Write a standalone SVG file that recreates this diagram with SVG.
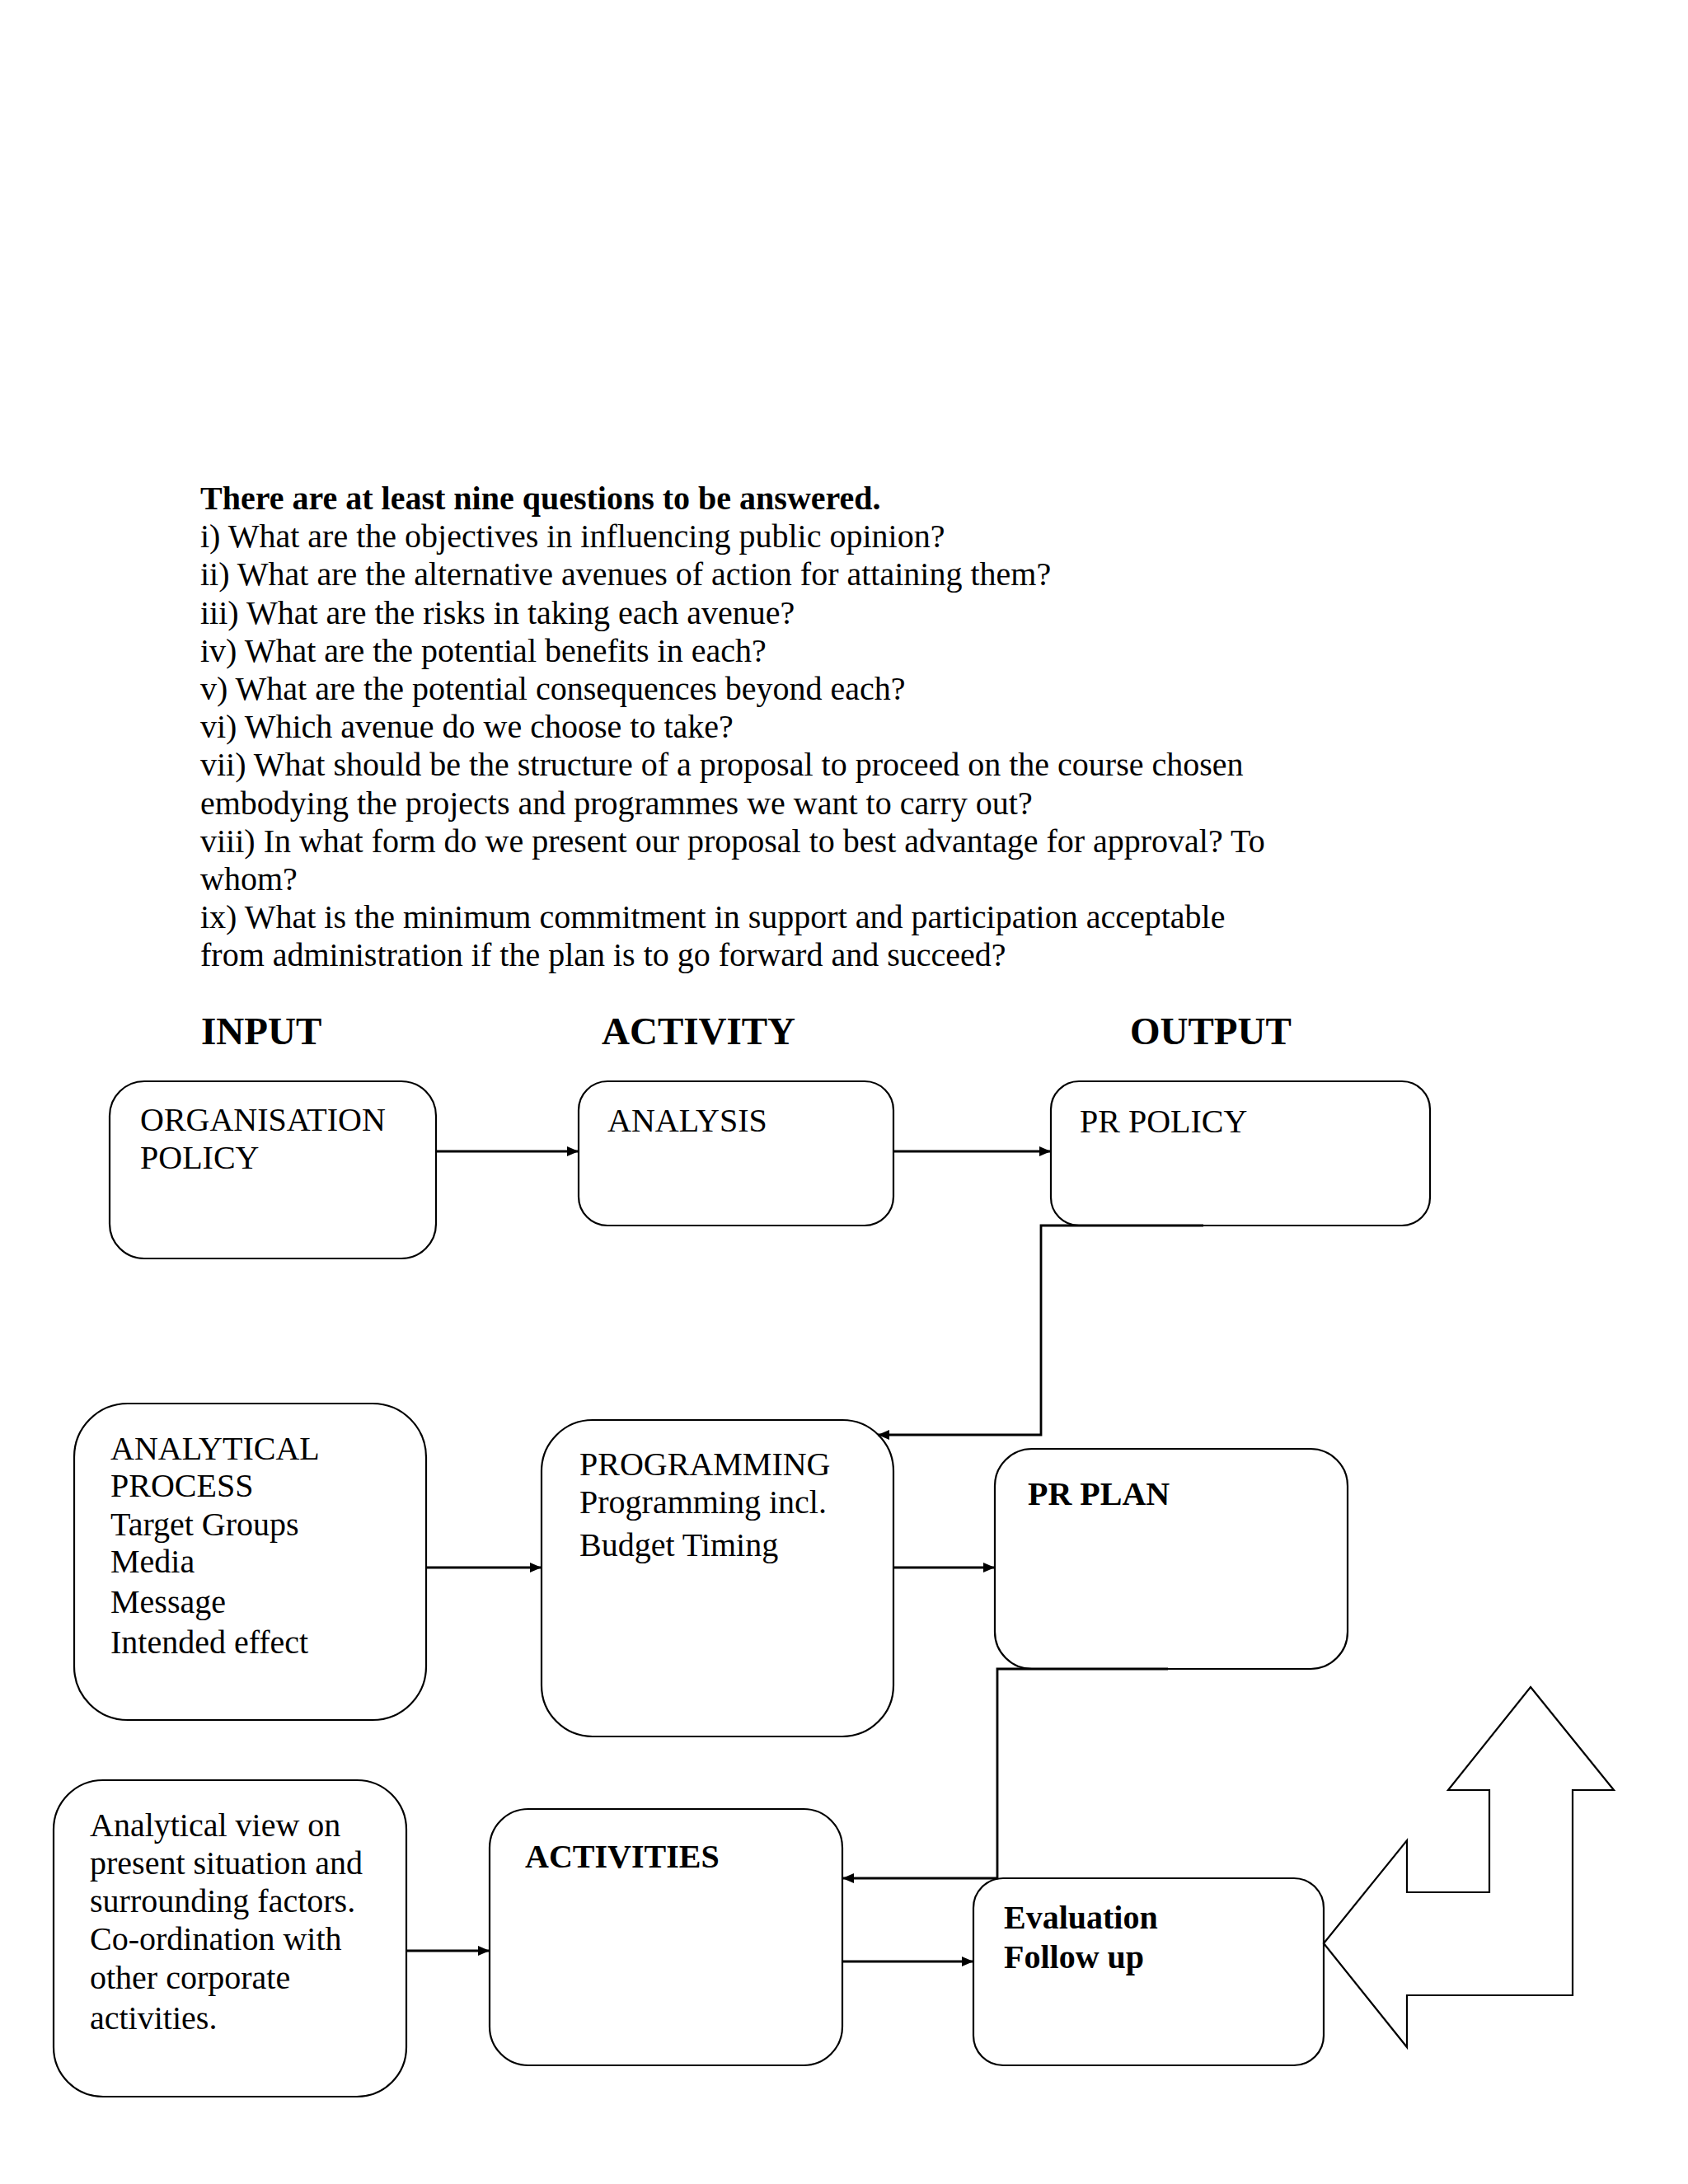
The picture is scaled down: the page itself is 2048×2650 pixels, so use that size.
<svg xmlns="http://www.w3.org/2000/svg" width="2048" height="2650" viewBox="0 0 2048 2650">
<defs>
<marker id="ah" markerUnits="userSpaceOnUse" markerWidth="14" markerHeight="12" refX="14" refY="6" orient="auto"><path d="M0,0 L14,6 L0,12 z" fill="#000"/></marker>
</defs>
<style>
.t{font-family:"Liberation Serif","Times New Roman",serif;font-size:40px;fill:#000}
.b{font-weight:bold}
.h{font-family:"Liberation Serif","Times New Roman",serif;font-size:47px;font-weight:bold;fill:#000}
.box{fill:#fff;stroke:#000;stroke-width:2.2}
.c{fill:none;stroke:#000;stroke-width:2.8}
.ca{marker-end:url(#ah)}
</style>
<rect width="2048" height="2650" fill="#fff"/>

<g id="questions">
<text class="t b" x="243" y="618">There are at least nine questions to be answered.</text>
<text class="t" x="243" y="664">i) What are the objectives in influencing public opinion?</text>
<text class="t" x="243" y="710">ii) What are the alternative avenues of action for attaining them?</text>
<text class="t" x="243" y="757">iii) What are the risks in taking each avenue?</text>
<text class="t" x="243" y="803">iv) What are the potential benefits in each?</text>
<text class="t" x="243" y="849">v) What are the potential consequences beyond each?</text>
<text class="t" x="243" y="895">vi) Which avenue do we choose to take?</text>
<text class="t" x="243" y="941">vii) What should be the structure of a proposal to proceed on the course chosen</text>
<text class="t" x="243" y="988">embodying the projects and programmes we want to carry out?</text>
<text class="t" x="243" y="1034">viii) In what form do we present our proposal to best advantage for approval? To</text>
<text class="t" x="243" y="1080">whom?</text>
<text class="t" x="243" y="1126">ix) What is the minimum commitment in support and participation acceptable</text>
<text class="t" x="243" y="1172">from administration if the plan is to go forward and succeed?</text>
</g>

<g id="headings">
<text class="h" x="244" y="1267">INPUT</text>
<text class="h" x="730" y="1267">ACTIVITY</text>
<text class="h" x="1371" y="1267">OUTPUT</text>
</g>

<g id="organisation-policy">
<rect class="box" x="133" y="1312" width="396" height="215" rx="42" ry="42"/>
<text class="t" x="170" y="1372">ORGANISATION</text>
<text class="t" x="170" y="1418">POLICY</text>
</g>

<g id="analysis">
<rect class="box" x="702" y="1312" width="382" height="175" rx="35" ry="35"/>
<text class="t" x="737" y="1373">ANALYSIS</text>
</g>

<g id="pr-policy">
<rect class="box" x="1275" y="1312" width="460" height="175" rx="34" ry="34"/>
<text class="t" x="1310" y="1374">PR POLICY</text>
</g>

<g id="analytical-process">
<rect class="box" x="90" y="1703" width="427" height="384" rx="65" ry="65"/>
<text class="t" x="134" y="1771">ANALYTICAL</text>
<text class="t" x="134" y="1816">PROCESS</text>
<text class="t" x="134" y="1863">Target Groups</text>
<text class="t" x="134" y="1908">Media</text>
<text class="t" x="134" y="1957">Message</text>
<text class="t" x="134" y="2006">Intended effect</text>
</g>

<g id="programming">
<rect class="box" x="657" y="1723" width="427" height="384" rx="62" ry="62"/>
<text class="t" x="703" y="1790">PROGRAMMING</text>
<text class="t" x="703" y="1836">Programming incl.</text>
<text class="t" x="703" y="1888">Budget Timing</text>
</g>

<g id="pr-plan">
<rect class="box" x="1207" y="1758" width="428" height="267" rx="45" ry="45"/>
<text class="t b" x="1247" y="1826">PR PLAN</text>
</g>

<g id="analytical-view">
<rect class="box" x="65" y="2160" width="428" height="384" rx="60" ry="60"/>
<text class="t" x="109" y="2228">Analytical view on</text>
<text class="t" x="109" y="2274">present situation and</text>
<text class="t" x="109" y="2320">surrounding factors.</text>
<text class="t" x="109" y="2366">Co-ordination with</text>
<text class="t" x="109" y="2413">other corporate</text>
<text class="t" x="109" y="2462">activities.</text>
</g>

<g id="activities">
<rect class="box" x="594" y="2195" width="428" height="311" rx="47" ry="47"/>
<text class="t b" x="637" y="2266">ACTIVITIES</text>
</g>

<g id="evaluation">
<rect class="box" x="1181" y="2279" width="425" height="227" rx="36" ry="36"/>
<text class="t b" x="1218" y="2340">Evaluation</text>
<text class="t b" x="1218" y="2388">Follow up</text>
</g>

<g id="feedback-arrow">
<polygon points="1857,2047 1958,2172 1908,2172 1908,2421 1707,2421 1707,2484 1606,2358 1707,2233 1707,2296 1807,2296 1807,2172 1757,2172" fill="#fff" stroke="#000" stroke-width="2.2" stroke-linejoin="miter"/>
</g>

<g id="connectors">
<path class="c ca" d="M529,1397 H702"/>
<path class="c ca" d="M1084,1397 H1275"/>
<path class="c ca" d="M1460,1487 H1263 V1741 H1065"/>
<path class="c ca" d="M517,1902 H657"/>
<path class="c ca" d="M1084,1902 H1207"/>
<path class="c ca" d="M1417,2025 H1210 V2279 H1022"/>
<path class="c ca" d="M493,2367 H594"/>
<path class="c ca" d="M1022,2380 H1181"/>
</g>
</svg>
